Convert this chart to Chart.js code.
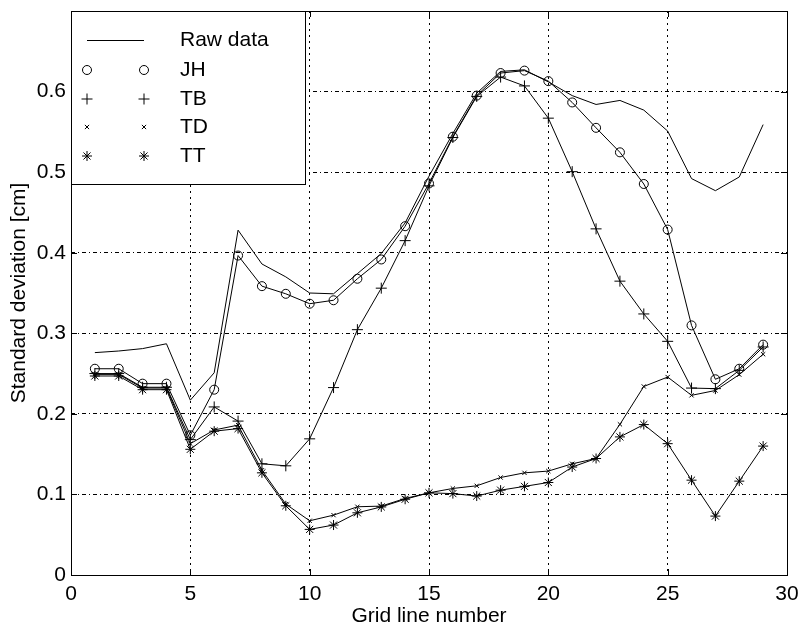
<!DOCTYPE html>
<html>
<head>
<meta charset="utf-8">
<script src="https://cdn.jsdelivr.net/npm/chart.js@4"></script>
<style>
  html, body { margin: 0; padding: 0; background: #fff; }
  #wrap { width: 798px; height: 625px; }
</style>
</head>
<body>
<div id="wrap"><canvas id="chart" width="798" height="625"></canvas></div>
<script>
// grid line numbers 1..29
const gridLines = [1, 2, 3, 4, 5, 6, 7, 8, 9, 10, 11, 12, 13, 14, 15, 16, 17, 18, 19, 20, 21, 22, 23, 24, 25, 26, 27, 28, 29];

const rawData = [0.276, 0.278, 0.281, 0.287, 0.217, 0.251, 0.428, 0.386, 0.370, 0.350, 0.349, 0.374, 0.399, 0.437, 0.495, 0.548, 0.598, 0.625, 0.627, 0.612, 0.595, 0.584, 0.589, 0.577, 0.551, 0.492, 0.477, 0.494, 0.559];
const jhData = [0.256, 0.256, 0.2375, 0.2375, 0.1735, 0.230, 0.3965, 0.3585, 0.349, 0.3367, 0.341, 0.3677, 0.3916, 0.4329, 0.486, 0.544, 0.595, 0.623, 0.626, 0.613, 0.5865, 0.555, 0.5246, 0.4853, 0.4287, 0.3098, 0.2429, 0.256, 0.2859];
const tbData = [0.250, 0.250, 0.233, 0.233, 0.168, 0.2086, 0.191, 0.138, 0.1355, 0.169, 0.2326, 0.3045, 0.356, 0.415, 0.483, 0.543, 0.594, 0.618, 0.607, 0.567, 0.5006, 0.4296, 0.3647, 0.324, 0.290, 0.232, 0.2313, 0.254, 0.283];
const tdData = [0.249, 0.249, 0.232, 0.232, 0.163, 0.180, 0.186, 0.130, 0.088, 0.0673, 0.0743, 0.0847, 0.0855, 0.095, 0.102, 0.1074, 0.1107, 0.121, 0.1268, 0.129, 0.138, 0.1446, 0.187, 0.234, 0.2457, 0.223, 0.229, 0.2487, 0.274];
const ttData = [0.247, 0.247, 0.230, 0.230, 0.156, 0.1785, 0.1817, 0.1268, 0.0859, 0.0566, 0.062, 0.0772, 0.0845, 0.094, 0.102, 0.101, 0.098, 0.1053, 0.110, 0.1148, 0.134, 0.1446, 0.1714, 0.1867, 0.163, 0.1177, 0.0731, 0.1165, 0.160];

const xTicks = [0, 5, 10, 15, 20, 25, 30];
const yTicks = [0, 0.1, 0.2, 0.3, 0.4, 0.5, 0.6];

const FONT = 'Liberation Sans, Arial, Helvetica, sans-serif';

function pts(ys) {
    return gridLines.map((x, i) => ({ x: x, y: ys[i] }));
}

function series(label, ys, style, radius) {
    return {
        label: label,
        data: pts(ys),
        borderColor: '#000',
        borderWidth: 1,
        pointStyle: style || false,
        pointRadius: style ? radius : 0,
        pointBorderColor: '#000',
        pointBackgroundColor: 'rgba(0,0,0,0)',
        pointBorderWidth: 1,
        tension: 0
    };
}

function noPad(scale) {
    scale.paddingLeft = 0;
    scale.paddingRight = 0;
    scale.paddingTop = 0;
    scale.paddingBottom = 0;
}

// box, inward ticks and legend like the original figure
const framePlugin = {
    id: 'frame',
    afterDraw(chart) {
        const ctx = chart.ctx;
        const a = chart.chartArea;
        const xs = chart.scales.x, ys = chart.scales.y;
        ctx.save();
        ctx.strokeStyle = '#000';
        ctx.lineWidth = 1;
        ctx.setLineDash([]);
        ctx.strokeRect(a.left + 0.5, a.top + 0.5, a.right - a.left, a.bottom - a.top);
        ctx.beginPath();
        xTicks.forEach(v => {
            const px = Math.round(xs.getPixelForValue(v)) + 0.5;
            ctx.moveTo(px, a.bottom); ctx.lineTo(px, a.bottom - 6);
            ctx.moveTo(px, a.top); ctx.lineTo(px, a.top + 6);
        });
        yTicks.forEach(v => {
            const py = Math.round(ys.getPixelForValue(v)) + 0.5;
            ctx.moveTo(a.left, py); ctx.lineTo(a.left + 6, py);
            ctx.moveTo(a.right, py); ctx.lineTo(a.right - 6, py);
        });
        ctx.stroke();

        // legend box
        const lx = a.left, ly = a.top, lw = 234, lh = 173;
        ctx.fillStyle = '#fff';
        ctx.fillRect(lx, ly, lw, lh);
        ctx.strokeRect(lx + 0.5, ly + 0.5, lw, lh);
        ctx.textBaseline = 'middle';
        ctx.textAlign = 'left';
        const rows = [29, 59, 88, 116, 145];
        chart.data.datasets.forEach((ds, i) => {
            const y = ly + rows[i];
            if (!ds.pointStyle) {
                ctx.beginPath();
                ctx.moveTo(lx + 16, y + 0.5);
                ctx.lineTo(lx + 73, y + 0.5);
                ctx.stroke();
            } else {
                [lx + 16, lx + 73].forEach(mx => {
                    ctx.fillStyle = 'rgba(0,0,0,0)';
                    Chart.helpers.drawPoint(ctx, {
                        pointStyle: ds.pointStyle,
                        radius: ds.pointRadius,
                        borderWidth: 1,
                        rotation: 0
                    }, mx, y);
                });
            }
            ctx.font = '21px ' + FONT;
            ctx.fillStyle = '#000';
            ctx.fillText(ds.label, lx + 109, y);
        });
        ctx.restore();
    }
};

new Chart(document.getElementById('chart'), {
    type: 'line',
    data: {
        datasets: [
            series('Raw data', rawData, false, 0),
            series('JH', jhData, 'circle', 4.5),
            series('TB', tbData, 'cross', 5.5),
            series('TD', tdData, 'crossRot', 3),
            series('TT', ttData, 'star', 5)
        ]
    },
    options: {
        responsive: false,
        animation: false,
        layout: { padding: { top: 11, right: 11, left: 0, bottom: 0 } },
        plugins: {
            legend: { display: false },
            tooltip: { enabled: false }
        },
        scales: {
            x: {
                type: 'linear',
                min: 0,
                max: 30,
                afterFit(scale) { scale.height = 50; noPad(scale); },
                afterBuildTicks(scale) { scale.ticks = xTicks.map(v => ({ value: v })); },
                ticks: {
                    color: '#000',
                    font: { family: FONT, size: 21 },
                    padding: 7,
                    maxRotation: 0
                },
                grid: { color: '#000', lineWidth: 1, drawTicks: false },
                border: { display: false, dash: [2, 4] },
                title: {
                    display: true,
                    text: 'Grid line number',
                    color: '#000',
                    font: { family: FONT, size: 21 },
                    padding: { top: 0, bottom: -4 }
                }
            },
            y: {
                type: 'linear',
                min: 0,
                max: 0.7,
                afterFit(scale) { scale.width = 71; noPad(scale); },
                afterBuildTicks(scale) { scale.ticks = yTicks.map(v => ({ value: v })); },
                ticks: {
                    color: '#000',
                    font: { family: FONT, size: 21 },
                    padding: 5,
                    callback: v => String(+v.toFixed(1))
                },
                grid: { color: '#000', lineWidth: 1, drawTicks: false },
                border: { display: false, dash: [4, 3, 1, 3] },
                title: {
                    display: true,
                    text: 'Standard deviation [cm]',
                    color: '#000',
                    font: { family: FONT, size: 21 },
                    padding: { top: 7, bottom: 0 }
                }
            }
        }
    },
    plugins: [framePlugin]
});
</script>
</body>
</html>
